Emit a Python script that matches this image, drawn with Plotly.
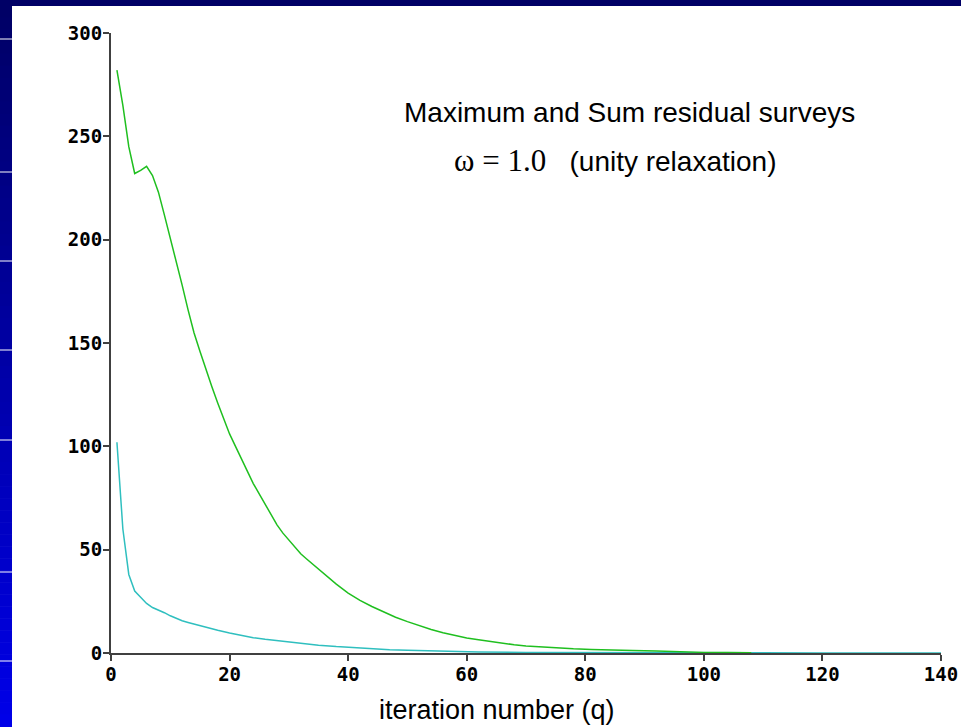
import plotly.graph_objects as go

# ---- data ----
sum_q = [1, 2, 3, 4, 5, 6, 7, 8, 9, 10, 11, 12, 13, 14, 15, 16, 17, 18, 19, 20,
         21, 22, 23, 24, 25, 26, 27, 28, 29, 30, 31, 32, 33, 34, 35, 36, 37, 38,
         40, 42, 44, 46, 48, 50, 52, 54, 56, 58, 60, 62, 64, 66, 68, 70, 72, 75,
         78, 81, 84, 88, 92, 96, 100, 104, 108]
sum_res = [282, 265, 245, 232, 233.5, 235.5, 231, 223, 212, 201, 190, 178, 166,
           155, 146, 137, 129, 121, 113, 106, 100, 94, 88, 82, 77, 72, 67, 62,
           58, 54.5, 51, 48, 45.5, 43, 40.5, 38, 35.5, 33.3, 29, 25.5, 22.5,
           19.8, 17.3, 15.2, 13.2, 11.4, 9.8, 8.4, 7.3, 6.4, 5.5, 4.7, 4.0, 3.4,
           3.0, 2.5, 2.0, 1.7, 1.4, 1.2, 1.0, 0.5, 0.3, 0.2, 0.1]

max_q = [1, 2, 3, 4, 5, 6, 7, 8, 9, 10, 11, 12, 13, 14, 15, 16, 18, 20, 22, 24,
         26, 28, 30, 32, 35, 38, 41, 44, 47, 50, 54, 58, 62, 70, 80, 100, 120, 140]
max_res = [102, 60, 38, 30, 27, 24, 22, 20.8, 19.5, 18, 16.8, 15.6, 14.8, 14,
           13.2, 12.6, 11, 9.7, 8.5, 7.4, 6.6, 5.9, 5.2, 4.6, 3.8, 3.1, 2.5,
           2.0, 1.6, 1.3, 1.0, 0.7, 0.5, 0.3, 0.2, 0.1, 0.05, 0.0]

x_ticks = [0, 20, 40, 60, 80, 100, 120, 140]
y_ticks = [0, 50, 100, 150, 200, 250, 300]

W, H = 961, 727
L, R, T, B = 111, 20, 33, 74
PW, PH = W - L - R, H - T - B


def px2paper_x(px):
    return (px - L) / PW


def px2paper_y(py):
    return (H - B - py) / PH


fig = go.Figure()
fig.add_trace(go.Scatter(x=max_q, y=max_res, mode="lines",
                         line=dict(color="#2fbfbf", width=1.5),
                         showlegend=False, cliponaxis=False))
fig.add_trace(go.Scatter(x=sum_q, y=sum_res, mode="lines",
                         line=dict(color="#1fbf1f", width=1.5),
                         showlegend=False, cliponaxis=False))

shapes = []
# top dark strip
shapes.append(dict(type="rect", xref="paper", yref="paper",
                   x0=px2paper_x(0), x1=px2paper_x(W),
                   y0=px2paper_y(6), y1=px2paper_y(0),
                   fillcolor="#000066", line=dict(width=0), layer="below"))
# left gradient strip
n = 60
for i in range(n):
    y0 = 6 + (H - 6) * i / n
    y1 = 6 + (H - 6) * (i + 1) / n
    f = i / (n - 1)
    b = int(102 + (232 - 102) * f)
    shapes.append(dict(type="rect", xref="paper", yref="paper",
                       x0=px2paper_x(0), x1=px2paper_x(12),
                       y0=px2paper_y(y1), y1=px2paper_y(y0) + 0.001,
                       fillcolor=f"rgb(0,0,{b})", line=dict(width=0),
                       layer="below"))
for sy in [39, 172, 261, 350, 440, 572, 661]:
    shapes.append(dict(type="line", xref="paper", yref="paper",
                       x0=px2paper_x(0), x1=px2paper_x(12),
                       y0=px2paper_y(sy), y1=px2paper_y(sy),
                       line=dict(color="white", width=1), layer="below"))

annotations = [
    dict(text="Maximum and Sum residual surveys", xref="paper", yref="paper",
         x=px2paper_x(629), y=px2paper_y(112), xanchor="center", yanchor="middle",
         showarrow=False, font=dict(family="Liberation Sans", size=28, color="black")),
    dict(text='<span style="font-family:Liberation Serif;font-size:31px">ω = 1.0</span>   (unity relaxation)',
         xref="paper", yref="paper",
         x=px2paper_x(615), y=px2paper_y(160), xanchor="center", yanchor="middle",
         showarrow=False, font=dict(family="Liberation Sans", size=28, color="black")),
    dict(text="iteration number (q)", xref="paper", yref="paper",
         x=px2paper_x(497), y=px2paper_y(710), xanchor="center", yanchor="middle",
         showarrow=False, font=dict(family="Liberation Sans", size=27, color="black")),
]

tickfont = dict(family="DejaVu Sans Mono", size=19, color="black", weight="bold")
axis_common = dict(showgrid=False, zeroline=False, showline=True, linecolor="#404040",
                   linewidth=2, ticks="outside", ticklen=6, tickwidth=2,
                   tickcolor="#404040", tickfont=tickfont, layer="below traces",
                   fixedrange=True, automargin=False, ticklabelstandoff=-3)
fig.update_layout(
    width=W, height=H,
    margin=dict(l=L, r=R, t=T, b=B, pad=0, autoexpand=False),
    paper_bgcolor="white", plot_bgcolor="white",
    shapes=shapes, annotations=annotations,
    xaxis=dict(range=[0, 140], tickvals=x_ticks, ticktext=[str(v) for v in x_ticks],
               **axis_common),
    yaxis=dict(range=[0, 300], tickvals=y_ticks, ticktext=[str(v) for v in y_ticks],
               **axis_common),
)

fig.write_html("out.html", config={"displayModeBar": False},
               post_script="document.body.style.margin='0';document.body.style.overflow='hidden';")
